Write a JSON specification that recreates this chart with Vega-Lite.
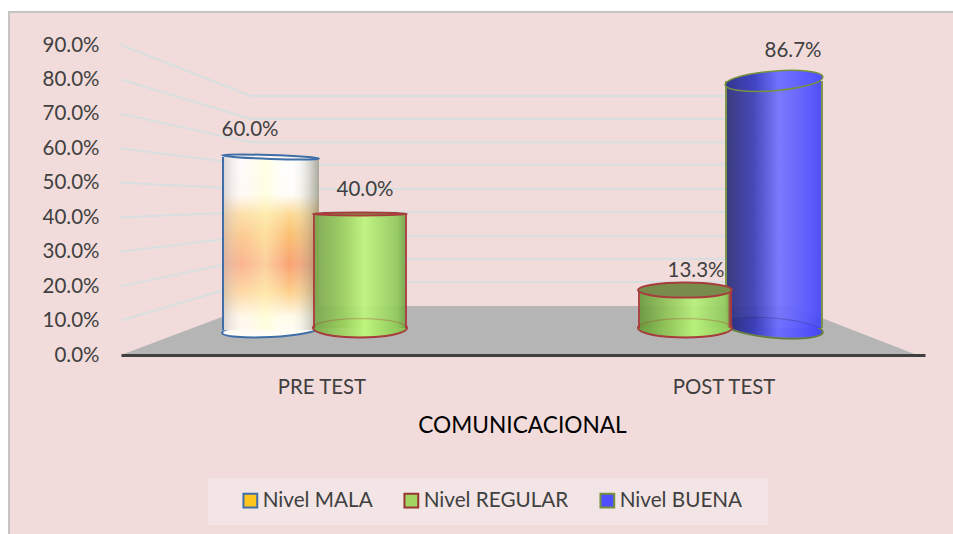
{
"$schema":"https://vega.github.io/schema/vega-lite/v6.json",
"width":944,"height":522,
"autosize":{"type":"none"},
"padding":{"left":9,"top":12,"right":0,"bottom":0},
"background":"#ffffff",
"view":{"fill":"#f2dcdb","stroke":null},
"config":{"font":"Lato"},
"datasets":{
"medidas":[
{"test":"PRE TEST","nivel":"Nivel MALA","value":0.6},
{"test":"PRE TEST","nivel":"Nivel REGULAR","value":0.4},
{"test":"POST TEST","nivel":"Nivel REGULAR","value":0.133},
{"test":"POST TEST","nivel":"Nivel BUENA","value":0.867}
],
"piso":[
{"px":0,"py":0,"py2":0},
{"px":130,"py":0.142,"py2":0},
{"px":670,"py":0.142,"py2":0},
{"px":796,"py":0,"py2":0}
],
"rejilla":[
{"nivel":"10","px":0,"py":0.1},{"nivel":"10","px":130,"py":0.212},{"nivel":"10","px":670,"py":0.212},
{"nivel":"20","px":0,"py":0.2},{"nivel":"20","px":130,"py":0.279},{"nivel":"20","px":670,"py":0.279},
{"nivel":"30","px":0,"py":0.3},{"nivel":"30","px":130,"py":0.346},{"nivel":"30","px":670,"py":0.346},
{"nivel":"40","px":0,"py":0.4},{"nivel":"40","px":130,"py":0.415},{"nivel":"40","px":670,"py":0.415},
{"nivel":"50","px":0,"py":0.5},{"nivel":"50","px":130,"py":0.482},{"nivel":"50","px":670,"py":0.482},
{"nivel":"60","px":0,"py":0.6},{"nivel":"60","px":130,"py":0.552},{"nivel":"60","px":670,"py":0.552},
{"nivel":"70","px":0,"py":0.7},{"nivel":"70","px":130,"py":0.618},{"nivel":"70","px":670,"py":0.618},
{"nivel":"80","px":0,"py":0.8},{"nivel":"80","px":130,"py":0.685},{"nivel":"80","px":670,"py":0.685},
{"nivel":"90","px":0,"py":0.9},{"nivel":"90","px":130,"py":0.752},{"nivel":"90","px":670,"py":0.752}
]
},
"data":{"name":"medidas"},
"resolve":{"scale":{"x":"independent","y":"independent"},"axis":{"x":"independent","y":"independent"}},
"layer":[
{
"encoding":{
"x":{"field":"px","type":"quantitative","scale":{"domain":[0,804],"range":[112,916],"nice":false,"zero":false},"axis":null},
"y":{"field":"py","type":"quantitative","scale":{"domain":[0,0.9],"range":[343,33],"nice":false,"zero":false},
"axis":{"orient":"left","offset":-112,"values":[0,0.1,0.2,0.3,0.4,0.5,0.6,0.7,0.8,0.9],"format":".1%","title":null,"domain":false,"ticks":false,"grid":false,"labelPadding":22,"labelFont":"Lato","labelFontSize":20.5,"labelColor":"#404040"}}
},
"layer":[
{"data":{"values":[{"px":-112,"px2":850,"py":0.9958,"py2":-0.572}]},"mark":{"type":"rect","fill":"transparent","stroke":"#c4c4c4","strokeWidth":2},"encoding":{"x2":{"field":"px2"},"y2":{"field":"py2"}}},
{"data":{"name":"piso"},"mark":{"type":"area","color":"#b5b5b5","opacity":1},"encoding":{"y2":{"field":"py2"}}},
{"data":{"name":"rejilla"},"mark":{"type":"line","color":"#d8dfe0","strokeWidth":2},"encoding":{"detail":{"field":"nivel"}}},
{"data":{"values":[{"px":87,"px2":647,"py":-0.357,"py2":-0.4936}]},"mark":{"type":"rect","color":"#f3e5e5"},"encoding":{"x2":{"field":"px2"},"y2":{"field":"py2"}}}
]
},
{
"encoding":{
"x":{"field":"test","type":"nominal","sort":null,"scale":{"domain":["PRE TEST","POST TEST"],"range":[112,916],"paddingInner":0,"paddingOuter":0},
"axis":{"orient":"bottom","offset":-179,"zindex":1,"title":"COMUNICACIONAL","titleX":513,"titleY":70,"titleFont":"Lato","titleFontSize":22.7,"titleFontWeight":"normal","titleColor":"#000000","titleBaseline":"middle","labelAngle":0,"labelFont":"Lato","labelFontSize":20.4,"labelColor":"#404040","labelPadding":22,"ticks":false,"domainColor":"#404040","domainWidth":3,"grid":false}},
"y":{"field":"value","type":"quantitative","stack":null,"scale":{"domain":[0,1],"range":[316,31],"nice":false,"zero":false},"axis":null}
},
"layer":[
{"mark":{"type":"bar","opacity":0,"size":1},
"encoding":{
"fill":{"field":"nivel","type":"nominal","scale":{"domain":["Nivel MALA","Nivel REGULAR","Nivel BUENA"],"range":["#ffc61f","#a2d662","#4f4fff"]},
"legend":{"orient":"none","legendX":231,"legendY":478,"direction":"horizontal","columns":3,"title":null,"symbolType":"square","symbolSize":190,"symbolStrokeWidth":2,"symbolOpacity":1,"labelFont":"Lato","labelFontSize":20.7,"labelColor":"#404040","labelOffset":2,"columnPadding":27,"padding":0,"encode":{"symbols":{"update":{"fill":{"scale":"fill","field":"value"},"fillOpacity":{"value":1}}}}}},
"stroke":{"field":"nivel","type":"nominal","scale":{"domain":["Nivel MALA","Nivel REGULAR","Nivel BUENA"],"range":["#3f6ea8","#983432","#76923c"]}}
}},
{"transform":[{"filter":"datum.nivel==='Nivel MALA'"}],
"layer":[
{"mark":{"type":"point","filled":true,"opacity":1,"xOffset":-51.5,"size":9409,"angle":-3,"shape":"M-1,0A1,0.14,0,1,0,1,0A1,0.14,0,1,0,-1,0Z","fill":"#fffdf5","stroke":"#3f6ea8","strokeWidth":2},"encoding":{"y":{"datum":-0.008}}},
{"mark":{"type":"bar","size":97,"xOffset":-51.5,"fill":{"gradient":"linear","x1":0,"y1":0,"x2":0,"y2":1,"stops":[{"offset":0,"color":"#ffffff"},{"offset":0.22,"color":"#fffdf8"},{"offset":0.33,"color":"#fdd992"},{"offset":0.45,"color":"#fbbf70"},{"offset":0.62,"color":"#f9a070"},{"offset":0.78,"color":"#fdd08a"},{"offset":0.92,"color":"#fffbe8"},{"offset":1,"color":"#fffdf5"}]}},"encoding":{"y2":{"datum":-0.008}}},
{"mark":{"type":"bar","size":97,"xOffset":-51.5,"fill":{"gradient":"linear","x1":0,"y1":0,"x2":1,"y2":0,"stops":[{"offset":0,"color":"#3f6ea8"},{"offset":0.02,"color":"#3f6ea8"},{"offset":0.025,"color":"rgba(200,190,190,0.6)"},{"offset":0.2,"color":"rgba(255,240,240,0.25)"},{"offset":0.45,"color":"rgba(255,255,200,0.5)"},{"offset":0.7,"color":"rgba(255,255,255,0)"},{"offset":1,"color":"rgba(110,110,90,0.6)"}]}},"encoding":{"y2":{"datum":-0.008}}},
{"mark":{"type":"point","filled":true,"opacity":1,"xOffset":-51.5,"size":9409,"angle":2,"shape":"M-1,0A1,0.04,0,1,0,1,0A1,0.04,0,1,0,-1,0Z","fill":"#f6f4ee","stroke":"#3f6ea8","strokeWidth":2}},
{"mark":{"type":"text","xOffset":-72,"yOffset":-27,"font":"Lato","fontSize":20.5,"color":"#404040"},"encoding":{"text":{"field":"value","type":"quantitative","format":".1%"}}}
]},
{"transform":[{"filter":"datum.nivel==='Nivel BUENA'"}],
"layer":[
{"mark":{"type":"point","filled":true,"opacity":1,"xOffset":50,"size":9604,"angle":5,"shape":"M-1,0A1,0.2,0,1,0,1,0A1,0.2,0,1,0,-1,0Z","fill":{"gradient":"linear","x1":0,"y1":0,"x2":1,"y2":0,"stops":[{"offset":0,"color":"#2d2f78"},{"offset":0.3,"color":"#3c3fb8"},{"offset":0.55,"color":"#6c6cff"},{"offset":1,"color":"#4545f5"}]},"stroke":"#76923c","strokeWidth":2},"encoding":{"y":{"datum":0}}},
{"mark":{"type":"bar","size":98,"xOffset":50,"opacity":0.93,"fill":{"gradient":"linear","x1":0,"y1":0,"x2":1,"y2":0,"stops":[{"offset":0,"color":"#76923c"},{"offset":0.015,"color":"#76923c"},{"offset":0.02,"color":"#2d2f78"},{"offset":0.3,"color":"#3c3fb8"},{"offset":0.55,"color":"#7272ff"},{"offset":0.8,"color":"#5a5aff"},{"offset":0.98,"color":"#4545f5"},{"offset":0.985,"color":"#76923c"},{"offset":1,"color":"#76923c"}]}}},
{"mark":{"type":"point","filled":false,"fill":"transparent","opacity":0.25,"xOffset":50,"size":9604,"angle":5,"shape":"M-1,0A1,0.2,0,1,0,1,0A1,0.2,0,1,0,-1,0Z","stroke":"#1c1c70","strokeWidth":1},"encoding":{"y":{"datum":0}}},
{"mark":{"type":"point","filled":true,"opacity":1,"xOffset":50,"size":9604,"angle":-4.5,"shape":"M-1,0A1,0.2,0,1,0,1,0A1,0.2,0,1,0,-1,0Z","fill":{"gradient":"linear","x1":0,"y1":0,"x2":1,"y2":0,"stops":[{"offset":0,"color":"#34368e"},{"offset":0.3,"color":"#4144c4"},{"offset":0.55,"color":"#7272ff"},{"offset":1,"color":"#4f4fff"}]},"stroke":"#76923c","strokeWidth":1.5}},
{"mark":{"type":"text","xOffset":69,"yOffset":-30,"font":"Lato","fontSize":20.5,"color":"#404040"},"encoding":{"text":{"field":"value","type":"quantitative","format":".1%"}}}
]},
{"transform":[{"filter":"datum.nivel==='Nivel REGULAR' && datum.test==='PRE TEST'"}],
"layer":[
{"mark":{"type":"point","filled":true,"opacity":1,"xOffset":38,"size":8836,"shape":"M-1,0A1,0.2,0,1,0,1,0A1,0.2,0,1,0,-1,0Z","fill":{"gradient":"linear","x1":0,"y1":0,"x2":1,"y2":0,"stops":[{"offset":0,"color":"#7ba84e"},{"offset":0.55,"color":"#bdf57d"},{"offset":1,"color":"#86bc54"}]},"stroke":"#a83c3c","strokeWidth":2},"encoding":{"y":{"datum":0}}},
{"mark":{"type":"bar","size":94,"xOffset":38,"opacity":0.93,"fill":{"gradient":"linear","x1":0,"y1":0,"x2":1,"y2":0,"stops":[{"offset":0,"color":"#a83c3c"},{"offset":0.02,"color":"#a83c3c"},{"offset":0.025,"color":"#7ba84e"},{"offset":0.3,"color":"#96cb5c"},{"offset":0.55,"color":"#bdf57d"},{"offset":0.9,"color":"#90c85c"},{"offset":0.975,"color":"#76a84c"},{"offset":0.98,"color":"#a83c3c"},{"offset":1,"color":"#a83c3c"}]}}},
{"mark":{"type":"point","filled":false,"fill":"transparent","opacity":0.3,"xOffset":38,"size":8836,"shape":"M-1,0A1,0.2,0,1,0,1,0A1,0.2,0,1,0,-1,0Z","stroke":"#a83c3c","strokeWidth":1},"encoding":{"y":{"datum":0}}},
{"mark":{"type":"point","filled":true,"opacity":1,"xOffset":38,"size":8836,"shape":"M-1,0A1,0.03,0,1,0,1,0A1,0.03,0,1,0,-1,0Z","fill":"#7c9a48","stroke":"#a83c3c","strokeWidth":2}},
{"mark":{"type":"text","xOffset":43,"yOffset":-24,"font":"Lato","fontSize":20.5,"color":"#404040"},"encoding":{"text":{"field":"value","type":"quantitative","format":".1%"}}}
]},
{"transform":[{"filter":"datum.nivel==='Nivel REGULAR' && datum.test==='POST TEST'"}],
"layer":[
{"mark":{"type":"point","filled":true,"opacity":1,"xOffset":-39,"size":8836,"shape":"M-1,0A1,0.2,0,1,0,1,0A1,0.2,0,1,0,-1,0Z","fill":{"gradient":"linear","x1":0,"y1":0,"x2":1,"y2":0,"stops":[{"offset":0,"color":"#6b9a3f"},{"offset":0.6,"color":"#b7f07a"},{"offset":1,"color":"#8ec85a"}]},"stroke":"#a83c3c","strokeWidth":2},"encoding":{"y":{"datum":0}}},
{"mark":{"type":"bar","size":94,"xOffset":-39,"opacity":0.93,"fill":{"gradient":"linear","x1":0,"y1":0,"x2":1,"y2":0,"stops":[{"offset":0,"color":"#a83c3c"},{"offset":0.02,"color":"#a83c3c"},{"offset":0.025,"color":"#6b9a3f"},{"offset":0.3,"color":"#90c458"},{"offset":0.6,"color":"#b7f07a"},{"offset":0.95,"color":"#8ec85a"},{"offset":0.98,"color":"#a83c3c"},{"offset":1,"color":"#a83c3c"}]}}},
{"mark":{"type":"point","filled":false,"fill":"transparent","opacity":0.3,"xOffset":-39,"size":8836,"shape":"M-1,0A1,0.2,0,1,0,1,0A1,0.2,0,1,0,-1,0Z","stroke":"#a83c3c","strokeWidth":1},"encoding":{"y":{"datum":0}}},
{"mark":{"type":"point","filled":true,"opacity":1,"xOffset":-39,"size":8836,"shape":"M-1,0A1,0.16,0,1,0,1,0A1,0.16,0,1,0,-1,0Z","fill":"#788c4c","stroke":"#a83c3c","strokeWidth":2}},
{"mark":{"type":"text","xOffset":-28,"yOffset":-19,"font":"Lato","fontSize":20.5,"color":"#404040"},"encoding":{"text":{"field":"value","type":"quantitative","format":".1%"}}}
]}
]
}
]
}
